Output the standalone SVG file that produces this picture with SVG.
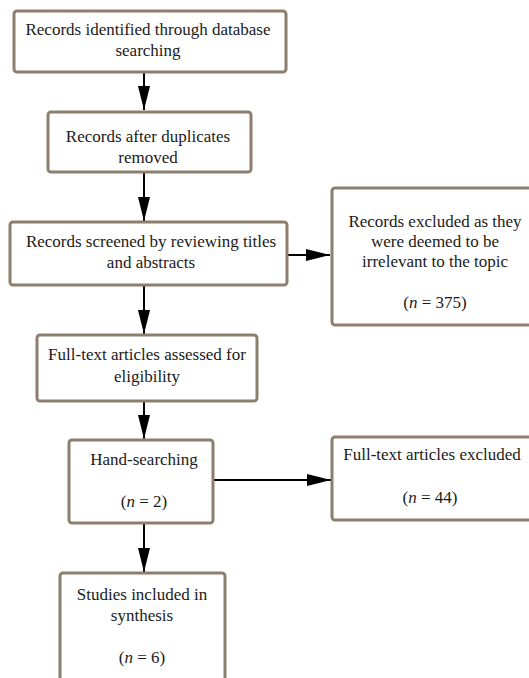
<svg xmlns="http://www.w3.org/2000/svg" width="529" height="678" viewBox="0 0 529 678">
<style>
.box{fill:#fff;stroke:#8c7f6d;stroke-width:3}
text{font-family:"Liberation Serif","Times New Roman",serif;font-size:17px;fill:#1a1a1a;text-anchor:middle}
.c{stroke:#000;stroke-width:2;fill:none}
</style>
<defs>
<marker id="ah" viewBox="0 0 24 12" refX="24" refY="6" markerWidth="24" markerHeight="12" markerUnits="userSpaceOnUse" orient="auto">
<path d="M0,0 L24,6 L0,12 Z" fill="#000"/>
</marker>
</defs>
<rect width="529" height="678" fill="#fff"/>
<g id="connectors">
<line class="c" x1="144" y1="72" x2="144" y2="110" marker-end="url(#ah)"/>
<line class="c" x1="144" y1="173" x2="144" y2="221" marker-end="url(#ah)"/>
<line class="c" x1="288" y1="255" x2="330" y2="255" marker-end="url(#ah)"/>
<line class="c" x1="144" y1="286" x2="144" y2="334" marker-end="url(#ah)"/>
<line class="c" x1="144" y1="402" x2="144" y2="439" marker-end="url(#ah)"/>
<line class="c" x1="214" y1="480" x2="331" y2="480" marker-end="url(#ah)"/>
<line class="c" x1="144" y1="524" x2="144" y2="572" marker-end="url(#ah)"/>
</g>
<g id="n1">
<rect class="box" x="14" y="11" width="272" height="61" rx="3"/>
<text x="148" y="35">Records identified through database</text>
<text x="148" y="56">searching</text>
</g>
<g id="n2">
<rect class="box" x="48" y="112" width="203" height="60" rx="3"/>
<text x="148" y="142">Records after duplicates</text>
<text x="148" y="163">removed</text>
</g>
<g id="n3">
<rect class="box" x="10" y="222" width="277" height="63" rx="3"/>
<text x="151" y="247">Records screened by reviewing titles</text>
<text x="151" y="268">and abstracts</text>
</g>
<g id="n4">
<rect class="box" x="332" y="188" width="210" height="137" rx="3"/>
<text x="435" y="227">Records excluded as they</text>
<text x="435" y="247">were deemed to be</text>
<text x="435" y="267">irrelevant to the topic</text>
<text x="435" y="308">(<tspan font-style="italic">n</tspan> = 375)</text>
</g>
<g id="n5">
<rect class="box" x="37" y="335" width="220" height="66" rx="3"/>
<text x="147" y="360">Full-text articles assessed for</text>
<text x="147" y="382">eligibility</text>
</g>
<g id="n6">
<rect class="box" x="69" y="440" width="144" height="83" rx="3"/>
<text x="144" y="465">Hand-searching</text>
<text x="144" y="507">(<tspan font-style="italic">n</tspan> = 2)</text>
</g>
<g id="n7">
<rect class="box" x="332" y="437" width="210" height="83" rx="3"/>
<text x="432" y="460">Full-text articles excluded</text>
<text x="430" y="503">(<tspan font-style="italic">n</tspan> = 44)</text>
</g>
<g id="n8">
<rect class="box" x="60" y="573" width="165" height="120" rx="3"/>
<text x="142" y="600">Studies included in</text>
<text x="142" y="621">synthesis</text>
<text x="142" y="663">(<tspan font-style="italic">n</tspan> = 6)</text>
</g>
</svg>
